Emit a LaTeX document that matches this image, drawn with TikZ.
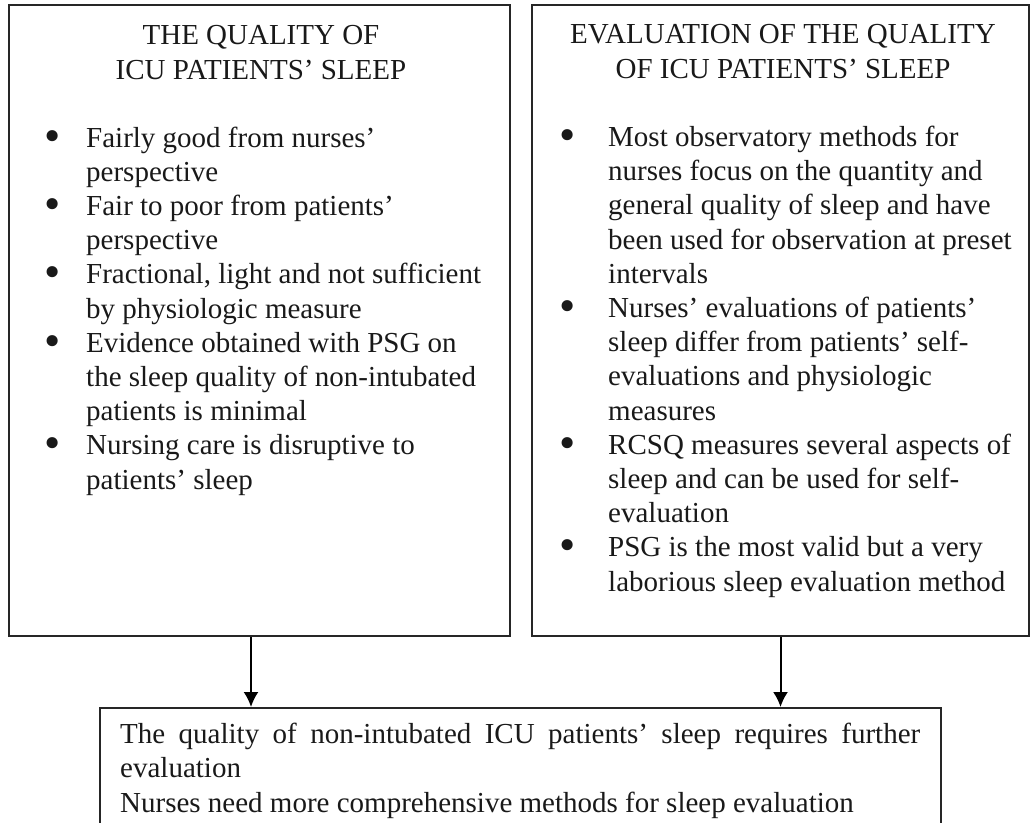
\documentclass[tikz,border=0pt]{standalone}
\usepackage{fontspec}
\setmainfont{Liberation Serif}
\usetikzlibrary{arrows.meta,positioning}
\tikzset{>={Latex[length=15pt,width=15pt]}}
\newcommand{\bigdot}{\raisebox{-4pt}{\scalebox{1.6}{\textbullet}}}
\newcommand{\leftdot}{\llap{\bigdot\hspace{25.5pt}}}
\newcommand{\rightdot}{\llap{\bigdot\hspace{32.5pt}}}

\begin{document}
\begin{tikzpicture}[x=1pt,y=-1pt,
	panel/.style={draw=black!85, line width=2pt, inner sep=0pt},
	txt/.style={inner sep=0pt, text=black!90, font=\fontsize{29}{34.2}\selectfont}]
	\useasboundingbox (0,0) rectangle (1032,822);
	% the three boxes
	\node[panel, minimum width=501pt, minimum height=631pt] (left) at (259.5,320.5) {};
	\node[panel, minimum width=497pt, minimum height=631pt] (right) at (780.5,320.5) {};
	\node[panel, minimum width=841pt, minimum height=118pt] (summary) at (520.5,767) {};
	% headings (base = last line)
	\node[txt, align=center, anchor=base] (lefttitle) at (261,79) {THE QUALITY OF\\ ICU PATIENTS' SLEEP};
	\node[txt, align=center, anchor=base] (righttitle) at (783,78) {EVALUATION OF THE QUALITY\\ OF ICU PATIENTS' SLEEP};
	% lists
	\node[txt, align=left, anchor=base west] (leftlist) at (86,489) {\leftdot Fairly good from nurses'\\
		perspective\\
		\leftdot Fair to poor from patients'\\
		perspective\\
		\leftdot Fractional, light and not sufficient\\
		by physiologic measure\\
		\leftdot Evidence obtained with PSG on\\
		the sleep quality of non-intubated\\
		patients is minimal\\
		\leftdot Nursing care is disruptive to\\
		patients' sleep};
	\node[txt, align=left, anchor=base west] (rightlist) at (608,591) {\rightdot Most observatory methods for\\
		nurses focus on the quantity and\\
		general quality of sleep and have\\
		been used for observation at preset\\
		intervals\\
		\rightdot Nurses' evaluations of patients'\\
		sleep differ from patients' self-\\
		evaluations and physiologic\\
		measures\\
		\rightdot RCSQ measures several aspects of\\
		sleep and can be used for self-\\
		evaluation\\
		\rightdot PSG is the most valid but a very\\
		laborious sleep evaluation method};
	\node[txt, align=left, anchor=base west] (sumtext) at (120,812) {\makebox[800pt][s]{The quality of non-intubated ICU patients' sleep requires further}\\
		evaluation\\
		Nurses need more comprehensive methods for sleep evaluation};
	% arrows
	\draw[->, line width=2pt] ([xshift=-8.5pt]left.south) -- ([xshift=-8.5pt]left.south |- summary.north);
	\draw[->, line width=2pt] (right.south) -- (right.south |- summary.north);
\end{tikzpicture}
\end{document}
